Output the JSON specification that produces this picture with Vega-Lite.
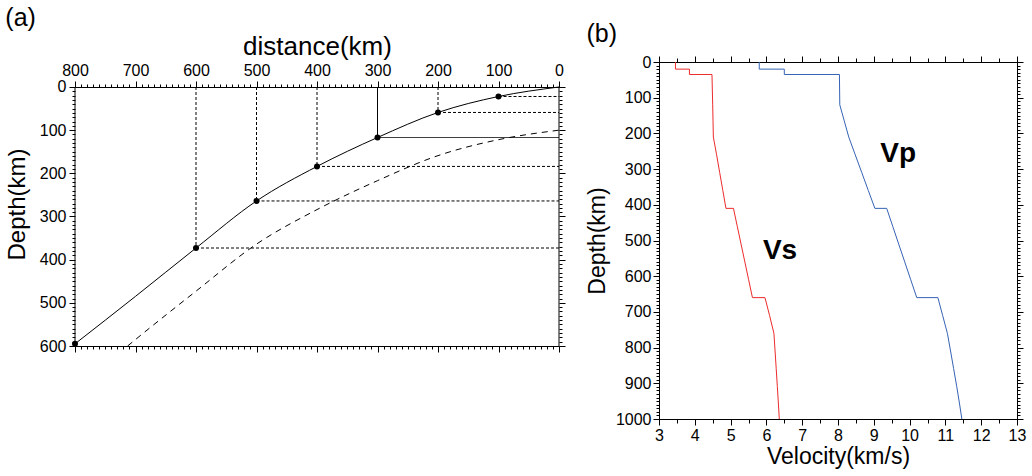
{
  "$schema": "https://vega.github.io/schema/vega-lite/v6.json",
  "background": "white",
  "padding": {"left": 5, "top": 6, "right": 5, "bottom": 5},
  "spacing": 19,
  "config": {
    "font": "Liberation Sans",
    "view": {"stroke": "black", "strokeWidth": 1},
    "axis": {"domainColor": "black", "tickColor": "black", "labelColor": "black", "titleColor": "black", "labelFont": "Liberation Sans", "titleFont": "Liberation Sans", "labelFontSize": 16, "titleFontWeight": "normal", "grid": false, "labelOverlap": false, "labelFlush": false, "labelBound": false},
    "title": {"fontWeight": "normal", "font": "Liberation Sans", "fontSize": 25, "anchor": "start", "color": "black"}
  },
  "datasets": {
    "profile": [
      {"i": 0, "depth": 0, "vs": 3.46, "vp": 5.8},
      {"i": 1, "depth": 20, "vs": 3.46, "vp": 5.8},
      {"i": 2, "depth": 20, "vs": 3.85, "vp": 6.5},
      {"i": 3, "depth": 35, "vs": 3.85, "vp": 6.5},
      {"i": 4, "depth": 35, "vs": 4.48, "vp": 8.04},
      {"i": 5, "depth": 120, "vs": 4.5, "vp": 8.05},
      {"i": 6, "depth": 165, "vs": 4.509, "vp": 8.175},
      {"i": 7, "depth": 210, "vs": 4.518, "vp": 8.3},
      {"i": 8, "depth": 260, "vs": 4.609, "vp": 8.482},
      {"i": 9, "depth": 310, "vs": 4.696, "vp": 8.665},
      {"i": 10, "depth": 360, "vs": 4.783, "vp": 8.847},
      {"i": 11, "depth": 410, "vs": 4.87, "vp": 9.03},
      {"i": 12, "depth": 410, "vs": 5.08, "vp": 9.36},
      {"i": 13, "depth": 460, "vs": 5.186, "vp": 9.528},
      {"i": 14, "depth": 510, "vs": 5.292, "vp": 9.696},
      {"i": 15, "depth": 560, "vs": 5.398, "vp": 9.864},
      {"i": 16, "depth": 610, "vs": 5.504, "vp": 10.032},
      {"i": 17, "depth": 660, "vs": 5.61, "vp": 10.2},
      {"i": 18, "depth": 660, "vs": 5.96, "vp": 10.79},
      {"i": 19, "depth": 710, "vs": 6.089, "vp": 10.923},
      {"i": 20, "depth": 760, "vs": 6.21, "vp": 11.056},
      {"i": 21, "depth": 809.5, "vs": 6.242, "vp": 11.144},
      {"i": 22, "depth": 859, "vs": 6.274, "vp": 11.23},
      {"i": 23, "depth": 908.5, "vs": 6.305, "vp": 11.316},
      {"i": 24, "depth": 958, "vs": 6.336, "vp": 11.396},
      {"i": 25, "depth": 1000, "vs": 6.36, "vp": 11.46}
    ]
  },
  "hconcat": [
    {
      "width": 484,
      "height": 284,
      "view": {"stroke": null},
      "title": {"text": "(a)", "frame": "bounds", "offset": 2},
      "resolve": {"axis": {"x": "independent", "y": "independent"}},
      "layer": [
        {
          "data": {"values": [
            {"distance": 0, "depth": 100},
            {"distance": 100, "depth": 122},
            {"distance": 200, "depth": 159},
            {"distance": 300, "depth": 217},
            {"distance": 400, "depth": 284},
            {"distance": 500, "depth": 364},
            {"distance": 600, "depth": 473},
            {"distance": 700, "depth": 585},
            {"distance": 713, "depth": 600}
          ]},
          "mark": {"type": "line", "color": "black", "strokeWidth": 1, "strokeDash": [6, 5], "interpolate": "monotone", "clip": true},
          "encoding": {
            "x": {"field": "distance", "type": "quantitative", "scale": {"domain": [0, 800], "reverse": true, "nice": false, "zero": false},
              "axis": {"orient": "bottom", "title": null, "labels": false,
                "values": [0,10,20,30,40,50,60,70,80,90,100,110,120,130,140,150,160,170,180,190,200,210,220,230,240,250,260,270,280,290,300,310,320,330,340,350,360,370,380,390,400,410,420,430,440,450,460,470,480,490,500,510,520,530,540,550,560,570,580,590,600,610,620,630,640,650,660,670,680,690,700,710,720,730,740,750,760,770,780,790,800],
                "tickSize": {"condition": {"test": "datum.value % 100 === 0", "value": 6}, "value": 3}}},
            "y": {"field": "depth", "type": "quantitative", "scale": {"domain": [-57.9, 600], "reverse": true, "nice": false, "zero": false},
              "axis": {"orient": "right", "domain": false, "title": null, "labels": false,
                "values": [0,10,20,30,40,50,60,70,80,90,100,110,120,130,140,150,160,170,180,190,200,210,220,230,240,250,260,270,280,290,300,310,320,330,340,350,360,370,380,390,400,410,420,430,440,450,460,470,480,490,500,510,520,530,540,550,560,570,580,590,600],
                "tickSize": {"condition": {"test": "datum.value % 100 === 0", "value": 6}, "value": 3}}}
          }
        },
        {
          "data": {"values": [
            {"distance": 0, "depth": 0},
            {"distance": 100, "depth": 22},
            {"distance": 200, "depth": 59},
            {"distance": 300, "depth": 117},
            {"distance": 400, "depth": 184},
            {"distance": 500, "depth": 264},
            {"distance": 600, "depth": 373},
            {"distance": 700, "depth": 485},
            {"distance": 800, "depth": 595}
          ]},
          "mark": {"type": "line", "color": "black", "strokeWidth": 1, "interpolate": "monotone", "clip": true},
          "encoding": {
            "x": {"field": "distance", "type": "quantitative", "scale": {"domain": [0, 800], "reverse": true, "nice": false, "zero": false},
              "axis": {"orient": "top", "offset": -25, "title": "distance(km)", "titleFontSize": 26, "titlePadding": 3, "labelPadding": 3,
                "values": [0,10,20,30,40,50,60,70,80,90,100,110,120,130,140,150,160,170,180,190,200,210,220,230,240,250,260,270,280,290,300,310,320,330,340,350,360,370,380,390,400,410,420,430,440,450,460,470,480,490,500,510,520,530,540,550,560,570,580,590,600,610,620,630,640,650,660,670,680,690,700,710,720,730,740,750,760,770,780,790,800],
                "labelExpr": "datum.value % 100 === 0 ? format(datum.value, 'd') : ''",
                "tickSize": {"condition": {"test": "datum.value % 100 === 0", "value": 6}, "value": 3}}},
            "y": {"field": "depth", "type": "quantitative", "scale": {"domain": [-57.9, 600], "reverse": true, "nice": false, "zero": false},
              "axis": {"orient": "left", "domain": false, "title": "Depth(km)", "titleFontSize": 24, "titlePadding": 10, "labelPadding": 3,
                "values": [0,10,20,30,40,50,60,70,80,90,100,110,120,130,140,150,160,170,180,190,200,210,220,230,240,250,260,270,280,290,300,310,320,330,340,350,360,370,380,390,400,410,420,430,440,450,460,470,480,490,500,510,520,530,540,550,560,570,580,590,600],
                "labelExpr": "datum.value % 100 === 0 ? format(datum.value, 'd') : ''",
                "tickSize": {"condition": {"test": "datum.value % 100 === 0", "value": 6}, "value": 3}}}
          }
        },
        {
          "data": {"values": [
            {"distance": 800, "top": 0, "bottom": 600},
            {"distance": 0, "top": 0, "bottom": 600}
          ]},
          "mark": {"type": "rule", "color": "black", "strokeWidth": 1},
          "encoding": {
            "x": {"field": "distance", "type": "quantitative", "axis": null},
            "y": {"field": "top", "type": "quantitative", "axis": null},
            "y2": {"field": "bottom"}
          }
        },
        {
          "data": {"values": [
            {"distance": 200, "depth": 59, "top": 0, "style": "dotted"},
            {"distance": 300, "depth": 117, "top": 0, "style": "solid"},
            {"distance": 400, "depth": 184, "top": 0, "style": "dotted"},
            {"distance": 500, "depth": 264, "top": 0, "style": "dotted"},
            {"distance": 600, "depth": 373, "top": 0, "style": "dotted"}
          ]},
          "mark": {"type": "rule", "color": "black", "strokeWidth": 1},
          "encoding": {
            "x": {"field": "distance", "type": "quantitative", "axis": null},
            "y": {"field": "top", "type": "quantitative", "axis": null},
            "y2": {"field": "depth"},
            "strokeDash": {"field": "style", "type": "nominal", "scale": {"domain": ["dotted", "solid"], "range": [[3, 2], [1, 0]]}, "legend": null}
          }
        },
        {
          "data": {"values": [
            {"distance": 100, "depth": 22, "edge": 0, "style": "dotted"},
            {"distance": 200, "depth": 59, "edge": 0, "style": "dotted"},
            {"distance": 300, "depth": 117, "edge": 0, "style": "solid"},
            {"distance": 400, "depth": 184, "edge": 0, "style": "dotted"},
            {"distance": 500, "depth": 264, "edge": 0, "style": "dotted"},
            {"distance": 600, "depth": 373, "edge": 0, "style": "dotted"}
          ]},
          "mark": {"type": "rule", "color": "black", "strokeWidth": 1},
          "encoding": {
            "y": {"field": "depth", "type": "quantitative", "axis": null},
            "x": {"field": "distance", "type": "quantitative", "axis": null},
            "x2": {"field": "edge"},
            "strokeDash": {"field": "style", "type": "nominal", "scale": {"domain": ["dotted", "solid"], "range": [[3, 2], [1, 0]]}, "legend": null}
          }
        },
        {
          "data": {"values": [
            {"distance": 100, "depth": 22},
            {"distance": 200, "depth": 59},
            {"distance": 300, "depth": 117},
            {"distance": 400, "depth": 184},
            {"distance": 500, "depth": 264},
            {"distance": 600, "depth": 373},
            {"distance": 800, "depth": 595}
          ]},
          "mark": {"type": "point", "filled": true, "color": "black", "opacity": 1, "size": 36},
          "encoding": {
            "x": {"field": "distance", "type": "quantitative", "axis": null},
            "y": {"field": "depth", "type": "quantitative", "axis": null}
          }
        }
      ]
    },
    {
      "width": 358,
      "height": 357,
      "title": {"text": "(b)", "frame": "bounds", "offset": 7},
      "resolve": {"axis": {"x": "independent", "y": "independent"}},
      "layer": [
        {
          "data": {"name": "profile"},
          "mark": {"type": "line", "color": "#3563b5", "strokeWidth": 1},
          "encoding": {
            "x": {"field": "vp", "type": "quantitative", "scale": {"domain": [3, 13], "nice": false, "zero": false},
              "axis": {"orient": "top", "title": null, "labels": false,
                "values": [3,3.5,4,4.5,5,5.5,6,6.5,7,7.5,8,8.5,9,9.5,10,10.5,11,11.5,12,12.5,13],
                "tickSize": {"condition": {"test": "datum.value % 1 === 0", "value": 6}, "value": 4}}},
            "y": {"field": "depth", "type": "quantitative", "scale": {"domain": [0, 1000], "reverse": true, "nice": false, "zero": false},
              "axis": {"orient": "right", "title": null, "labels": false,
                "values": [0,10,20,30,40,50,60,70,80,90,100,110,120,130,140,150,160,170,180,190,200,210,220,230,240,250,260,270,280,290,300,310,320,330,340,350,360,370,380,390,400,410,420,430,440,450,460,470,480,490,500,510,520,530,540,550,560,570,580,590,600,610,620,630,640,650,660,670,680,690,700,710,720,730,740,750,760,770,780,790,800,810,820,830,840,850,860,870,880,890,900,910,920,930,940,950,960,970,980,990,1000],
                "tickSize": {"condition": {"test": "datum.value % 100 === 0", "value": 6}, "value": 3}}},
            "order": {"field": "i", "type": "quantitative"}
          }
        },
        {
          "data": {"name": "profile"},
          "mark": {"type": "line", "color": "#ee2b2b", "strokeWidth": 1},
          "encoding": {
            "x": {"field": "vs", "type": "quantitative", "scale": {"domain": [3, 13], "nice": false, "zero": false},
              "axis": {"orient": "bottom", "title": "Velocity(km/s)", "titleFontSize": 23, "titlePadding": 2, "labelPadding": 2,
                "values": [3,3.5,4,4.5,5,5.5,6,6.5,7,7.5,8,8.5,9,9.5,10,10.5,11,11.5,12,12.5,13],
                "labelExpr": "datum.value % 1 === 0 ? format(datum.value, 'd') : ''",
                "tickSize": {"condition": {"test": "datum.value % 1 === 0", "value": 6}, "value": 4}}},
            "y": {"field": "depth", "type": "quantitative", "scale": {"domain": [0, 1000], "reverse": true, "nice": false, "zero": false},
              "axis": {"orient": "left", "title": "Depth(km)", "titleFontSize": 23, "titlePadding": 6, "labelPadding": 2,
                "values": [0,10,20,30,40,50,60,70,80,90,100,110,120,130,140,150,160,170,180,190,200,210,220,230,240,250,260,270,280,290,300,310,320,330,340,350,360,370,380,390,400,410,420,430,440,450,460,470,480,490,500,510,520,530,540,550,560,570,580,590,600,610,620,630,640,650,660,670,680,690,700,710,720,730,740,750,760,770,780,790,800,810,820,830,840,850,860,870,880,890,900,910,920,930,940,950,960,970,980,990,1000],
                "labelExpr": "datum.value % 100 === 0 ? format(datum.value, 'd') : ''",
                "tickSize": {"condition": {"test": "datum.value % 100 === 0", "value": 6}, "value": 3}}},
            "order": {"field": "i", "type": "quantitative"}
          }
        },
        {
          "data": {"values": [
            {"label": "Vp", "v": 9.68, "depth": 281},
            {"label": "Vs", "v": 6.38, "depth": 551}
          ]},
          "mark": {"type": "text", "font": "Liberation Sans", "fontWeight": "bold", "fontSize": 28, "align": "center", "baseline": "alphabetic", "color": "black"},
          "encoding": {
            "x": {"field": "v", "type": "quantitative", "axis": null},
            "y": {"field": "depth", "type": "quantitative", "axis": null},
            "text": {"field": "label"}
          }
        }
      ]
    }
  ]
}
